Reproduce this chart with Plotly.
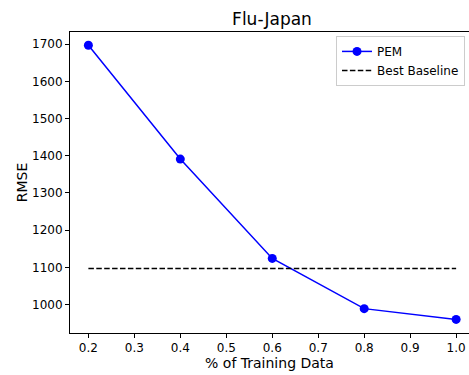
import plotly.graph_objects as go

train_frac = [0.2, 0.4, 0.6, 0.8, 1.0]
pem_rmse = [1697, 1391, 1124, 989, 960]
best_baseline = 1097
x_ticks = [0.2, 0.3, 0.4, 0.5, 0.6, 0.7, 0.8, 0.9, 1.0]
y_ticks = [1000, 1100, 1200, 1300, 1400, 1500, 1600, 1700]

FONT = "DejaVu Sans"

fig = go.Figure()
fig.add_trace(go.Scatter(
    x=train_frac, y=pem_rmse, mode="lines+markers", name="PEM",
    line=dict(color="#0000ff", width=1.5),
    marker=dict(color="#0000ff", size=9),
))
fig.add_trace(go.Scatter(
    x=[train_frac[0], train_frac[-1]], y=[best_baseline, best_baseline],
    mode="lines", name="Best Baseline",
    line=dict(color="black", width=1.5, dash="5.5px,2.4px"),
))

fig.update_layout(
    width=469, height=375,
    margin=dict(l=70, r=0, t=32, b=42),
    paper_bgcolor="white", plot_bgcolor="white",
    font=dict(family=FONT, size=12, color="black"),
    title=dict(text="Flu-Japan", x=272/469, xanchor="center", y=1 - 19/375,
               yanchor="middle", font=dict(size=17, family=FONT, color="black")),
    showlegend=True,
    legend=dict(x=0.99, xanchor="right", y=0.987, yanchor="top",
                bordercolor="#cccccc", borderwidth=1, bgcolor="white",
                itemwidth=30, tracegroupgap=2,
                font=dict(size=12, family=FONT)),
    xaxis=dict(range=[0.16, 1.028], tickvals=x_ticks,
               ticktext=[f"{v:.1f}" for v in x_ticks],
               showgrid=False, zeroline=False, showline=True, linecolor="black",
               linewidth=1, mirror=True, ticks="outside", ticklen=4,
               tickcolor="black", tickwidth=1,
               title=dict(text="% of Training Data", font=dict(size=14), standoff=3)),
    yaxis=dict(range=[923.5, 1732.5], tickvals=y_ticks,
               showgrid=False, zeroline=False, showline=True, linecolor="black",
               linewidth=1, ticks="outside", ticklen=4,
               tickcolor="black", tickwidth=1,
               title=dict(text="RMSE", font=dict(size=14), standoff=1)),
)

fig.write_html(
    "out.html",
    config={"displayModeBar": False},
    post_script="document.body.style.margin='0';document.body.style.overflow='hidden';",
)
